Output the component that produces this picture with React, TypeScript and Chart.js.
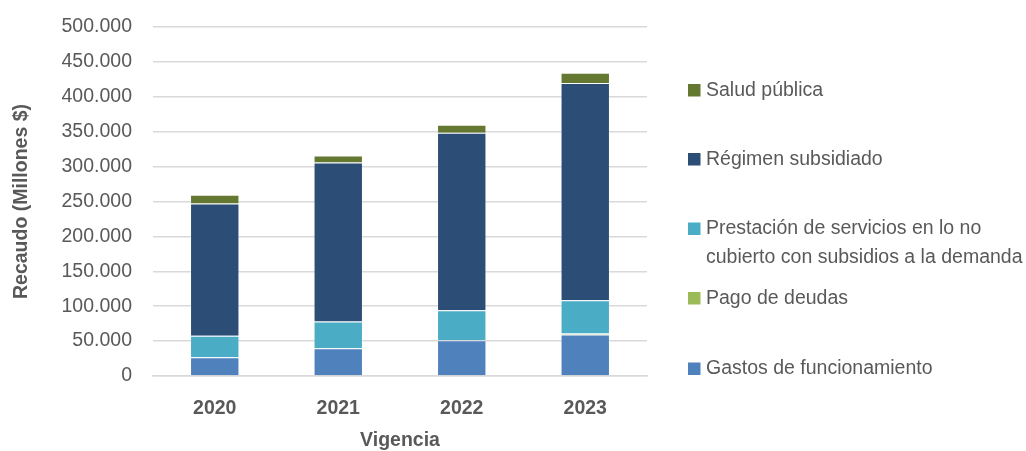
import React, { useEffect, useRef } from "react";
import { Chart, registerables } from "chart.js";

Chart.register(...registerables);

const categories = ["2020", "2021", "2022", "2023"];
const gastosFuncionamiento = [26800, 39800, 51300, 59500];
const pagoDeudas = [0, 0, 0, 1500];
const prestacionServicios = [30800, 38400, 42800, 47500];
const regimenSubsidiado = [189500, 227600, 254500, 311100];
const saludPublica = [12600, 10000, 11500, 15000];

const seriesNames = [
  "Gastos de funcionamiento",
  "Pago de deudas",
  "Prestación de servicios en lo no cubierto con subsidios a la demanda",
  "Régimen subsidiado",
  "Salud pública",
];
const seriesColors = ["#4F81BD", "#9BBB59", "#4BACC6", "#2C4D75", "#647832"];

const yTitle = "Recaudo (Millones $)";
const xTitle = "Vigencia";

const FONT = "'Liberation Sans', Arial, sans-serif";
const TEXT = "#595959";

// legend layout (drawn on canvas)
const legendItems = [
  { idx: 4, lines: ["Salud pública"], y: 90.5 },
  { idx: 3, lines: ["Régimen subsidiado"], y: 159.5 },
  { idx: 2, lines: ["Prestación de servicios en lo no", "cubierto con subsidios a la demanda"], y: 229 },
  { idx: 1, lines: ["Pago de deudas"], y: 298.5 },
  { idx: 0, lines: ["Gastos de funcionamiento"], y: 369 },
];

function fmt(v: number) {
  return String(Math.round(v)).replace(/\B(?=(\d{3})+(?!\d))/g, ".");
}

const legendPlugin = {
  id: "customLegend",
  afterDraw(chart: any) {
    const ctx = chart.ctx;
    ctx.save();
    ctx.font = `19.5px ${FONT}`;
    ctx.textBaseline = "middle";
    ctx.textAlign = "left";
    for (const it of legendItems) {
      ctx.fillStyle = seriesColors[it.idx];
      ctx.fillRect(688, it.y - 6.5, 12.5, 12.5);
      ctx.fillStyle = TEXT;
      it.lines.forEach((ln, i) => ctx.fillText(ln, 706, it.y + i * 29));
    }
    ctx.restore();
  },
};

export default function App() {
  const ref = useRef<HTMLCanvasElement>(null);
  useEffect(() => {
    const datasets = [
      gastosFuncionamiento,
      pagoDeudas,
      prestacionServicios,
      regimenSubsidiado,
      saludPublica,
    ].map((data, i) => ({
      label: seriesNames[i],
      data,
      backgroundColor: seriesColors[i],
      borderColor: "rgba(255,255,255,0.2)",
      borderWidth: 1,
      barPercentage: 0.4,
      categoryPercentage: 1,
    }));
    const chart = new Chart(ref.current!, {
      type: "bar",
      data: { labels: categories, datasets },
      plugins: [legendPlugin],
      options: {
        responsive: false,
        animation: false,
        layout: { padding: { left: 0, right: 1026 - 647, top: 27, bottom: 0 } },
        plugins: { legend: { display: false }, tooltip: { enabled: false } },
        scales: {
          x: {
            stacked: true,
            grid: { display: false },
            border: { display: true, color: "#D9D9D9", width: 1.5 },
            ticks: {
              color: TEXT,
              font: { family: FONT, size: 19.5, weight: "bold" },
              padding: 13,
            },
            title: {
              display: true,
              text: xTitle,
              color: TEXT,
              font: { family: FONT, size: 19.5, weight: "bold" },
              padding: { top: 0, bottom: -1 },
            },
            afterFit: (s: any) => {
              s.height = 451 - 376;
            },
          },
          y: {
            stacked: true,
            min: 0,
            max: 500000,
            ticks: {
              stepSize: 50000,
              color: TEXT,
              font: { family: FONT, size: 19.5 },
              padding: 0,
              callback: (v: any) => fmt(Number(v)),
            },
            grid: {
              color: "#D9D9D9",
              lineWidth: 1.5,
              drawTicks: true,
              tickLength: 21,
              tickColor: "rgba(0,0,0,0)",
            },
            border: { display: false },
            title: {
              display: true,
              text: yTitle,
              color: TEXT,
              font: { family: FONT, size: 19.5, weight: "bold" },
              padding: { top: 10, bottom: 0 },
            },
            afterFit: (s: any) => {
              s.width = 153;
            },
          },
        },
      },
    } as any);
    return () => chart.destroy();
  }, []);
  return (
    <div style={{ position: "fixed", left: 0, top: 0, width: 1026, height: 451, background: "#fff" }}>
      <canvas ref={ref} width={1026} height={451} style={{ width: 1026, height: 451 }} />
    </div>
  );
}
